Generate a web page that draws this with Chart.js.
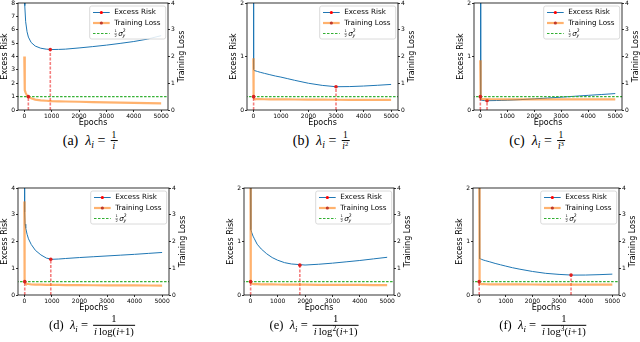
<!DOCTYPE html>
<html>
<head>
<meta charset="utf-8">
<script src="https://cdn.jsdelivr.net/npm/chart.js@4.4.1/dist/chart.umd.min.js"></script>
<style>
  body { margin: 0; background: #fff; width: 640px; height: 342px; position: relative; overflow: hidden; }
  canvas { position: absolute; }
  .cap { position: absolute; font-family: "Liberation Serif", "DejaVu Serif", serif; white-space: nowrap;
         transform: translate(-50%, -50%); display: flex; align-items: center; color: #000; }
  .cap sub { font-size: 0.7em; vertical-align: -0.35em; line-height: 0; }
  .cap sup { font-size: 0.7em; vertical-align: 0.45em; line-height: 0; }
  .frac { display: inline-flex; flex-direction: column; align-items: center; font-size: 0.68em; line-height: 1.1; margin-left: 5px; }
  .frac .num { border-bottom: 0.8px solid #000; padding: 0 1px; align-self: stretch; text-align: center; }
  .frac .den { padding: 0 1px; }
</style>
</head>
<body>
<script>
// shared x values (epochs) and tick labels
const EPOCHS = [0, 10, 25, 50, 100, 150, 250, 400, 600, 800, 1000, 1250, 1500, 2000, 2500, 3000, 3500, 4000, 4500, 5000];
const X_TICKS = [0, 1000, 2000, 3000, 4000, 5000];

// excess risk (left axis) and training loss (right axis) per panel
const riskA = [40, 14, 7.8, 6.6, 5.85, 5.45, 5.05, 4.78, 4.62, 4.55, 4.52, 4.53, 4.55, 4.64, 4.74, 4.85, 4.98, 5.12, 5.3, 5.56];
const lossA = [2.0, 1.0, 0.74, 0.64, 0.54, 0.5, 0.44, 0.39, 0.36, 0.345, 0.333, 0.325, 0.318, 0.308, 0.298, 0.288, 0.277, 0.267, 0.258, 0.25];
const riskB = [10, 0.76, 0.74, 0.735, 0.728, 0.72, 0.705, 0.685, 0.66, 0.635, 0.615, 0.585, 0.555, 0.5, 0.46, 0.435, 0.438, 0.448, 0.462, 0.478];
const lossB = [1.93, 0.5, 0.43, 0.415, 0.41, 0.408, 0.405, 0.402, 0.4, 0.398, 0.396, 0.394, 0.392, 0.389, 0.386, 0.383, 0.381, 0.379, 0.377, 0.375];
const riskC = [10, 0.19, 0.185, 0.182, 0.178, 0.176, 0.174, 0.175, 0.177, 0.18, 0.183, 0.188, 0.194, 0.208, 0.224, 0.24, 0.257, 0.274, 0.29, 0.307];
const lossC = [1.86, 0.44, 0.42, 0.41, 0.405, 0.404, 0.403, 0.402, 0.401, 0.4, 0.4, 0.399, 0.399, 0.398, 0.397, 0.397, 0.396, 0.396, 0.395, 0.395];
const riskD = [8, 3.1, 2.65, 2.5, 2.27, 2.1, 1.89, 1.67, 1.5, 1.38, 1.335, 1.345, 1.365, 1.4, 1.43, 1.46, 1.49, 1.52, 1.555, 1.59];
const lossD = [3.5, 0.55, 0.47, 0.44, 0.42, 0.41, 0.4, 0.39, 0.385, 0.38, 0.378, 0.375, 0.372, 0.368, 0.365, 0.362, 0.36, 0.358, 0.356, 0.354];
const riskE = [5, 1.27, 1.22, 1.17, 1.1, 1.05, 0.95, 0.86, 0.77, 0.7, 0.65, 0.605, 0.58, 0.56, 0.575, 0.595, 0.62, 0.645, 0.675, 0.705];
const lossE = [6, 0.52, 0.46, 0.43, 0.415, 0.41, 0.405, 0.4, 0.397, 0.394, 0.392, 0.39, 0.388, 0.385, 0.382, 0.379, 0.377, 0.375, 0.372, 0.37];
const riskF = [4, 0.69, 0.68, 0.675, 0.665, 0.655, 0.64, 0.62, 0.59, 0.565, 0.54, 0.51, 0.485, 0.44, 0.405, 0.385, 0.372, 0.373, 0.38, 0.39];
const lossF = [6, 0.45, 0.42, 0.41, 0.405, 0.403, 0.401, 0.4, 0.399, 0.398, 0.397, 0.396, 0.395, 0.393, 0.391, 0.39, 0.389, 0.388, 0.386, 0.385];

// best epoch (min excess risk) and the epoch where training loss reaches sigma^2/2
const MIN_EPOCH = [950, 3000, 253, 960, 1810, 3450];
const MIN_RISK = [4.52, 0.435, 0.174, 1.335, 0.558, 0.372];
const CROSS_EPOCH = [148, 10, 5, 15, 12, 3];
const HALF_SIGMA = 0.5;
const LEFT_MAX = [8, 2, 2, 4, 2, 2];
const RIGHT_MAX = 4;

const RISKS = [riskA, riskB, riskC, riskD, riskE, riskF];
const LOSSES = [lossA, lossB, lossC, lossD, lossE, lossF];

// plot area placement: left, top, width
const BOXES = [
  [18, 3, 150], [247, 3, 151], [474, 3, 148.5],
  [18, 187.5, 151], [244, 187.5, 150.5], [473, 187.5, 146]
];

const BLUE = '#1f77b4';
const ORANGE = 'rgba(255,127,14,0.6)';
const GREEN = '#33b033';
const RED = 'rgba(235,20,20,0.55)';
const FONT = '"DejaVu Sans", sans-serif';

const pts = (xs, ys) => xs.map((x, i) => ({ x: x, y: ys[i] }));

// top spine, right axis title and the legend box inside the plot
const decorations = {
  id: 'decorations',
  afterDraw(chart) {
    const ctx = chart.ctx;
    const ca = chart.chartArea;
    ctx.save();
    ctx.strokeStyle = '#000';
    ctx.lineWidth = 0.8;
    ctx.strokeRect(ca.left, ca.top, ca.right - ca.left, ca.bottom - ca.top);

    ctx.fillStyle = '#000';
    ctx.font = '8px ' + FONT;
    ctx.textAlign = 'center';
    ctx.textBaseline = 'middle';
    ctx.translate(ca.right + 13.5, (ca.top + ca.bottom) / 2);
    ctx.rotate(-Math.PI / 2);
    ctx.fillText('Training Loss', 0, 0);
    ctx.restore();

    // legend
    const bw = 76, bh = 33;
    const bx = ca.right - bw - 2.3, by = ca.top + 3;
    ctx.save();
    ctx.beginPath();
    ctx.roundRect(bx, by, bw, bh, 2);
    ctx.fillStyle = 'rgba(255,255,255,0.85)';
    ctx.fill();
    ctx.strokeStyle = '#d0d0d0';
    ctx.lineWidth = 0.8;
    ctx.stroke();

    const rows = [by + 6.5, by + 17, by + 27.5];
    const x0 = bx + 3.3, x1 = bx + 20, xm = (x0 + x1) / 2;
    // Excess Risk
    ctx.strokeStyle = BLUE; ctx.lineWidth = 1;
    ctx.beginPath(); ctx.moveTo(x0, rows[0]); ctx.lineTo(x1, rows[0]); ctx.stroke();
    ctx.fillStyle = 'red';
    ctx.beginPath(); ctx.arc(xm, rows[0], 1.6, 0, Math.PI * 2); ctx.fill();
    // Training Loss
    ctx.strokeStyle = ORANGE; ctx.lineWidth = 2.2;
    ctx.beginPath(); ctx.moveTo(x0, rows[1]); ctx.lineTo(x1, rows[1]); ctx.stroke();
    ctx.fillStyle = '#c0392b';
    ctx.beginPath(); ctx.arc(xm, rows[1], 1.6, 0, Math.PI * 2); ctx.fill();
    // half sigma^2
    ctx.strokeStyle = GREEN; ctx.lineWidth = 1.1; ctx.setLineDash([2.5, 1.5]);
    ctx.beginPath(); ctx.moveTo(x0, rows[2]); ctx.lineTo(x1, rows[2]); ctx.stroke();
    ctx.setLineDash([]);

    ctx.fillStyle = '#000';
    ctx.textAlign = 'left';
    ctx.textBaseline = 'middle';
    ctx.font = '7.2px ' + FONT;
    const tx = bx + 24.5;
    ctx.fillText('Excess Risk', tx, rows[0]);
    ctx.fillText('Training Loss', tx, rows[1]);
    // ½σ²_y
    ctx.font = '3.6px ' + FONT;
    ctx.textAlign = 'center';
    ctx.fillText('1', tx + 1.5, rows[2] - 2);
    ctx.fillText('2', tx + 1.5, rows[2] + 2.6);
    ctx.fillRect(tx + 0.2, rows[2] + 0.2, 2.6, 0.4);
    ctx.textAlign = 'left';
    ctx.font = 'italic 7.2px ' + FONT;
    ctx.fillText('σ', tx + 4, rows[2] + 0.5);
    ctx.font = '4.6px ' + FONT;
    ctx.fillText('2', tx + 8.6, rows[2] - 2.4);
    ctx.font = 'italic 4.6px ' + FONT;
    ctx.fillText('y', tx + 8.4, rows[2] + 2.6);
    ctx.restore();
  }
};

function makePanel(k) {
  const [L, T, W] = BOXES[k];
  const leftW = 18, rightW = 22, padTop = 5, xH = 18;
  const canvas = document.createElement('canvas');
  canvas.width = leftW + W + rightW;
  canvas.height = padTop + 107 + xH;
  canvas.style.left = (L - leftW) + 'px';
  canvas.style.top = (T - padTop) + 'px';
  document.body.appendChild(canvas);

  const tickFont = { family: FONT, size: 6 };
  const grid = { drawOnChartArea: false, tickLength: 2, color: '#000', lineWidth: 0.8 };

  new Chart(canvas, {
    type: 'line',
    data: {
      datasets: [
        {
          label: 'crossLine', data: [{ x: CROSS_EPOCH[k], y: 0 }, { x: CROSS_EPOCH[k], y: HALF_SIGMA }],
          yAxisID: 'y1', order: 1, borderColor: RED, borderWidth: 1.6, borderDash: [3, 1.5],
          pointRadius: [0, 1.8], pointBackgroundColor: '#d62020', pointBorderWidth: 0
        },
        {
          label: '½σ²', data: [{ x: -300, y: HALF_SIGMA }, { x: 5400, y: HALF_SIGMA }],
          yAxisID: 'y1', order: 2, borderColor: GREEN, borderWidth: 1.1, borderDash: [2.5, 1.5], pointRadius: 0
        },
        {
          label: 'Training Loss', data: pts(EPOCHS, LOSSES[k]),
          yAxisID: 'y1', order: 3, borderColor: ORANGE, borderWidth: 2.2, pointRadius: 0
        },
        {
          label: 'minLine', data: [{ x: MIN_EPOCH[k], y: 0 }, { x: MIN_EPOCH[k], y: MIN_RISK[k] }],
          yAxisID: 'y', order: 4, borderColor: RED, borderWidth: 1.6, borderDash: [3, 1.5],
          pointRadius: [0, 1.8], pointBackgroundColor: '#e02020', pointBorderWidth: 0
        },
        {
          label: 'Excess Risk', data: pts(EPOCHS, RISKS[k]),
          yAxisID: 'y', order: 5, borderColor: BLUE, borderWidth: 1, pointRadius: 0
        }
      ]
    },
    options: {
      responsive: false,
      animation: false,
      devicePixelRatio: 1,
      layout: { padding: { top: padTop, left: 0, right: 0, bottom: 0 } },
      plugins: { legend: { display: false }, tooltip: { enabled: false } },
      scales: {
        x: {
          type: 'linear', min: -230, max: 5250,
          afterBuildTicks: s => { s.ticks = X_TICKS.map(v => ({ value: v })); },
          afterFit: s => { s.height = xH; },
          grid: grid, border: { display: false },
          ticks: { font: tickFont, color: '#000', padding: 0.5, maxRotation: 0, callback: v => String(v) },
          title: { display: true, text: 'Epochs', color: '#000', font: { family: FONT, size: 8 }, padding: 0 }
        },
        y: {
          position: 'left', min: 0, max: LEFT_MAX[k],
          afterFit: s => { s.width = leftW; },
          grid: grid, border: { display: false },
          ticks: { stepSize: 1, font: tickFont, color: '#000', padding: 1 },
          title: { display: true, text: 'Excess Risk', color: '#000', font: { family: FONT, size: 8 }, padding: 0 }
        },
        y1: {
          position: 'right', min: 0, max: RIGHT_MAX,
          afterFit: s => { s.width = rightW; },
          grid: grid, border: { display: false },
          ticks: { stepSize: 1, font: tickFont, color: '#000', padding: 1 }
        }
      }
    },
    plugins: [decorations]
  });
}

for (let k = 0; k < 6; k++) makePanel(k);
</script>

<div class="cap" style="left:90px; top:141px; font-size:14px">(a)&ensp;<i>λ<sub>i</sub></i>&nbsp;=<span class="frac"><span class="num">1</span><span class="den"><i>i</i></span></span></div>
<div class="cap" style="left:321px; top:141px; font-size:14px">(b)&ensp;<i>λ<sub>i</sub></i>&nbsp;=<span class="frac"><span class="num">1</span><span class="den"><i>i</i><sup>2</sup></span></span></div>
<div class="cap" style="left:537px; top:141px; font-size:14px">(c)&ensp;<i>λ<sub>i</sub></i>&nbsp;=<span class="frac"><span class="num">1</span><span class="den"><i>i</i><sup>3</sup></span></span></div>
<div class="cap" style="left:92px; top:325px; font-size:12.5px">(d)&ensp;<i>λ<sub>i</sub></i>&nbsp;=<span class="frac" style="font-size:0.85em"><span class="num">1</span><span class="den"><i>i</i>&thinsp;log(<i>i</i>+1)</span></span></div>
<div class="cap" style="left:314px; top:325px; font-size:12.5px">(e)&ensp;<i>λ<sub>i</sub></i>&nbsp;=<span class="frac" style="font-size:0.85em"><span class="num">1</span><span class="den"><i>i</i>&thinsp;log<sup>2</sup>(<i>i</i>+1)</span></span></div>
<div class="cap" style="left:543px; top:325px; font-size:12.5px">(f)&ensp;<i>λ<sub>i</sub></i>&nbsp;=<span class="frac" style="font-size:0.85em"><span class="num">1</span><span class="den"><i>i</i>&thinsp;log<sup>3</sup>(<i>i</i>+1)</span></span></div>
</body>
</html>
